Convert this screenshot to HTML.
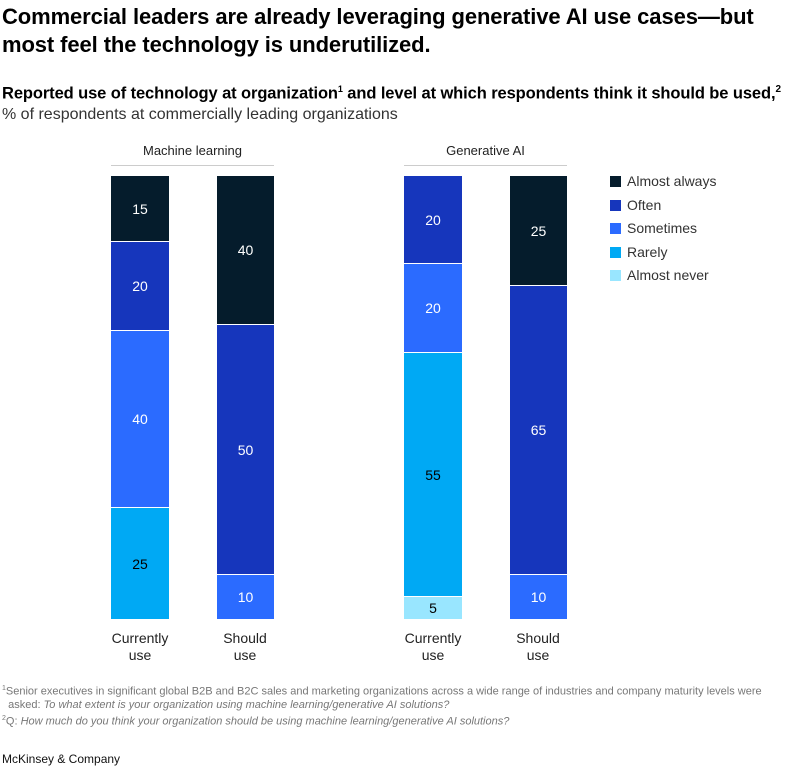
<!DOCTYPE html>
<html><head><style>
body{margin:0;width:804px;height:768px;background:#fff;font-family:"Liberation Sans",sans-serif;color:#000;position:relative;overflow:hidden}
.a{position:absolute;white-space:nowrap}
.seg{position:absolute;display:flex;align-items:center;justify-content:center;font-size:14px;box-sizing:border-box;border-bottom:1px solid #fff}
.lab{position:absolute;width:80px;text-align:center;font-size:14px;line-height:17px;color:#222}
.lg{position:absolute;left:610px;font-size:14px;color:#333}
.lg span{display:inline-block;width:11px;height:11px;margin-right:6px;vertical-align:-1px}
</style></head><body>
<div class="a" style="left:2px;top:3px;font-size:22px;font-weight:bold;line-height:28px;letter-spacing:-0.1px">Commercial leaders are already leveraging generative AI use cases—but<br>most feel the technology is underutilized.</div>
<div class="a" style="left:2px;top:84px;font-size:16.5px;font-weight:bold;letter-spacing:-0.1px">Reported use of technology at organization<sup style="font-size:9px">1</sup> and level at which respondents think it should be used,<sup style="font-size:10px">2</sup></div>
<div class="a" style="left:2px;top:106px;font-size:16px;color:#333">% of respondents at commercially leading organizations</div>

<div class="a" style="left:111px;width:163px;top:143px;text-align:center;font-size:13px;color:#222">Machine learning</div>
<div class="a" style="left:111px;width:163px;top:165px;height:1px;background:#ccc"></div>
<div class="a" style="left:404px;width:163px;top:143px;text-align:center;font-size:13px;color:#222">Generative AI</div>
<div class="a" style="left:404px;width:163px;top:165px;height:1px;background:#ccc"></div>

<div class="seg" style="left:111px;width:58px;top:176px;height:66px;background:#051c2c;color:#fff">15</div>
<div class="seg" style="left:111px;width:58px;top:242px;height:89px;background:#1636bc;color:#fff">20</div>
<div class="seg" style="left:111px;width:58px;top:331px;height:177px;background:#2b6bff;color:#fff">40</div>
<div class="seg" style="left:111px;width:58px;top:508px;height:111px;background:#00a9f4;color:#000;border:0">25</div>
<div class="seg" style="left:217px;width:57px;top:176px;height:149px;background:#051c2c;color:#fff">40</div>
<div class="seg" style="left:217px;width:57px;top:325px;height:250px;background:#1636bc;color:#fff">50</div>
<div class="seg" style="left:217px;width:57px;top:575px;height:44px;background:#2b6bff;color:#fff;border:0">10</div>
<div class="seg" style="left:404px;width:58px;top:176px;height:88px;background:#1636bc;color:#fff">20</div>
<div class="seg" style="left:404px;width:58px;top:264px;height:89px;background:#2b6bff;color:#fff">20</div>
<div class="seg" style="left:404px;width:58px;top:353px;height:244px;background:#00a9f4;color:#000">55</div>
<div class="seg" style="left:404px;width:58px;top:597px;height:22px;background:#99e6ff;color:#000;border:0">5</div>
<div class="seg" style="left:510px;width:57px;top:176px;height:110px;background:#051c2c;color:#fff">25</div>
<div class="seg" style="left:510px;width:57px;top:286px;height:289px;background:#1636bc;color:#fff">65</div>
<div class="seg" style="left:510px;width:57px;top:575px;height:44px;background:#2b6bff;color:#fff;border:0">10</div>

<div class="lab" style="left:100px;top:630px">Currently<br>use</div>
<div class="lab" style="left:205px;top:630px">Should<br>use</div>
<div class="lab" style="left:393px;top:630px">Currently<br>use</div>
<div class="lab" style="left:498px;top:630px">Should<br>use</div>

<div class="lg" style="top:173px"><span style="background:#051c2c"></span>Almost always</div>
<div class="lg" style="top:197px"><span style="background:#1636bc"></span>Often</div>
<div class="lg" style="top:220px"><span style="background:#2b6bff"></span>Sometimes</div>
<div class="lg" style="top:244px"><span style="background:#00a9f4"></span>Rarely</div>
<div class="lg" style="top:267px"><span style="background:#99e6ff"></span>Almost never</div>

<div class="a" style="left:2px;top:682px;font-size:11px;line-height:13px;color:#777"><sup style="font-size:7px">1</sup>Senior executives in significant global B2B and B2C sales and marketing organizations across a wide range of industries and company maturity levels were<br>&nbsp;&nbsp;asked: <i>To what extent is your organization using machine learning/generative AI solutions?</i><br><sup style="font-size:7px">2</sup>Q: <i>How much do you think your organization should be using machine learning/generative AI solutions?</i></div>
<div class="a" style="left:2px;top:752px;font-size:12px;color:#111">McKinsey &amp; Company</div>
</body></html>
